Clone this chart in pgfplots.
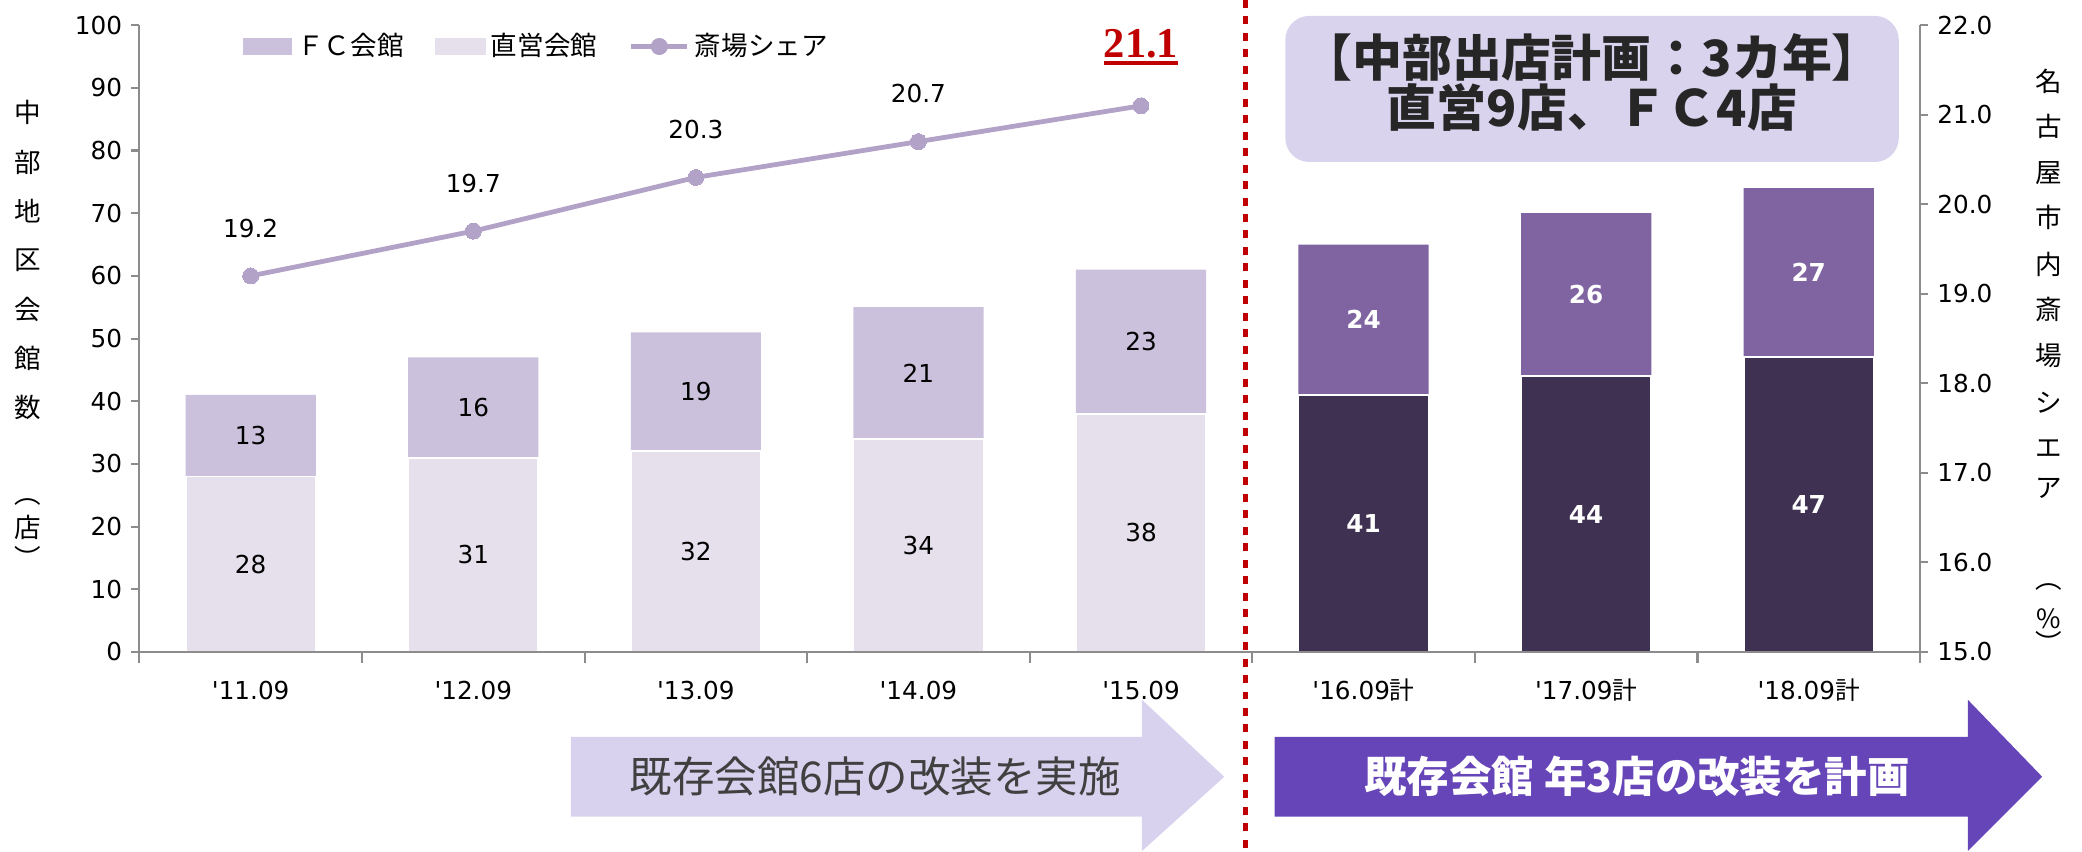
\documentclass[border=0pt]{standalone}
\usepackage{pgfplots}
\pgfplotsset{compat=1.18}
\usepackage{fontspec}
\setmainfont{DejaVu Sans}
\newfontfamily\jp{Noto Sans CJK JP}
\newfontfamily\ser{Liberation Serif}
\definecolor{fcL}{HTML}{CBC1DC}
\definecolor{dkL}{HTML}{E5E0EC}
\definecolor{fcD}{HTML}{8064A2}
\definecolor{dkD}{HTML}{3F3151}
\definecolor{lineC}{HTML}{B3A2C7}
\definecolor{boxC}{HTML}{D9D3EE}
\definecolor{arrL}{HTML}{D8D2EE}
\definecolor{arrR}{HTML}{6645B8}
\definecolor{axC}{HTML}{8C8C8C}
\definecolor{txt}{HTML}{262626}
\definecolor{arrT}{HTML}{404040}
\definecolor{redC}{HTML}{C00000}
\newcommand\numfont{\fontsize{9.3}{10}\selectfont}
\newcommand\jpfont{\jp\fontsize{10}{11}\selectfont}
\newcommand\redul[1]{\setbox0\hbox{#1}\leavevmode\rlap{\copy0}\rule[-2.6pt]{\wd0}{1.3pt}}
\begin{document}
\begin{tikzpicture}[x=0.5pt,y=0.5pt]
\path (0,0) rectangle (1568,641);
% arrows
\fill[arrL] (430,86) -- (860,86) -- (860,114) -- (922,56) -- (860,0) -- (860,26) -- (430,26) -- cycle;
\fill[arrR] (960,86) -- (1482,86) -- (1482,114) -- (1538,56) -- (1482,0) -- (1482,26) -- (960,26) -- cycle;
\node[font=\jp\fontsize{16}{17}\selectfont, text=arrT] at (659,56) {既存会館6店の改装を実施};
\node[font=\jp\bfseries\fontsize{16}{17}\selectfont, text=white] at (1233,56) {既存会館 年3店の改装を計画};
% plan box
\fill[boxC, rounded corners=9pt] (968,519) rectangle (1430,629);
\node[font=\jp\bfseries\fontsize{18.8}{19}\selectfont, text=txt, align=center] at (1199,579) {【中部出店計画：3カ年】\\直営9店、ＦＣ4店};

\begin{axis}[
  at={(52.5pt,75pt)}, anchor=south west, scale only axis,
  width=670.5pt, height=236pt,
  xmin=-0.5, xmax=7.5, ymin=0, ymax=100,
  axis x line*=bottom, axis y line*=left, axis on top,
  axis line style={draw=axC, line width=0.8pt},
  tick style={draw=axC, line width=0.8pt},
  tick align=outside, major tick length=3pt, minor tick length=4pt,
  xtick={0,...,7}, major x tick style={draw=none},
  minor xtick={-0.5,0.5,...,7.5},
  xticklabels={{\textquotesingle 11.09},{\textquotesingle 12.09},{\textquotesingle 13.09},{\textquotesingle 14.09},{\textquotesingle 15.09},{\textquotesingle 16.09{\jp 計}},{\textquotesingle 17.09{\jp 計}},{\textquotesingle 18.09{\jp 計}}},
  xticklabel style={font=\numfont, anchor=center, yshift=-11.5pt},
  ytick={0,10,...,100},
  yticklabel style={font=\numfont, /pgf/number format/assume math mode=true},
  legend style={at={(0.058,0.966)}, anchor=west, draw=none, fill=none, inner sep=0pt,
    font=\jpfont, /tikz/every even column/.append style={column sep=10pt}},
  legend columns=3, legend cell align=left,
  clip=false,
]
\addplot[ybar, bar width=0.585, fill=fcL, draw=none, forget plot] coordinates {(0,41) (1,47) (2,51) (3,55) (4,61)};
\addplot[ybar, bar width=0.585, fill=dkL, draw=white, line width=0.7pt, forget plot] coordinates {(0,28) (1,31) (2,32) (3,34) (4,38)};
\addplot[ybar, bar width=0.585, fill=fcD, draw=none, forget plot] coordinates {(5,65) (6,70) (7,74)};
\addplot[ybar, bar width=0.585, fill=dkD, draw=white, line width=0.7pt, forget plot] coordinates {(5,41) (6,44) (7,47)};
\addplot[only marks, mark=none, forget plot, point meta=explicit symbolic, nodes near coords,
  every node near coord/.append style={anchor=center, font=\numfont, text=black}]
  coordinates {(0,14)[28] (1,15.5)[31] (2,16)[32] (3,17)[34] (4,19)[38]
               (0,34.5)[13] (1,39)[16] (2,41.5)[19] (3,44.5)[21] (4,49.5)[23]};
\addplot[only marks, mark=none, forget plot, point meta=explicit symbolic, nodes near coords,
  every node near coord/.append style={anchor=center, font=\bfseries\numfont, text=white}]
  coordinates {(5,20.5)[41] (6,22)[44] (7,23.5)[47] (5,53)[24] (6,57)[26] (7,60.5)[27]};
\addlegendimage{legend image code/.code={\fill[fcL] (0pt,-3pt) rectangle (18pt,3pt);}}
\addlegendentry{ＦＣ会館}
\addlegendimage{legend image code/.code={\fill[dkL] (0pt,-3pt) rectangle (18.5pt,3pt);}}
\addlegendentry{直営会館}
\addlegendimage{legend image code/.code={\draw[lineC, line width=1.8pt] (0pt,0pt) -- (21pt,0pt); \fill[lineC] (10.5pt,0pt) circle (3pt);}}
\addlegendentry{斎場シェア}
\end{axis}

\begin{axis}[
  at={(52.5pt,75pt)}, anchor=south west, scale only axis,
  width=670.5pt, height=236pt,
  xmin=-0.5, xmax=7.5, ymin=15, ymax=22,
  axis y line*=right, axis x line=none,
  axis line style={draw=axC, line width=0.8pt},
  tick style={draw=axC, line width=0.8pt},
  tick align=outside, major tick length=3pt,
  ytick={15,16,...,22},
  yticklabel style={font=\numfont, /pgf/number format/.cd, fixed, fixed zerofill, precision=1, assume math mode=true},
  clip=false,
]
\addplot[lineC, line width=1.8pt, mark=*, mark size=3pt, mark options={fill=lineC, draw=lineC, line width=0pt}]
  coordinates {(0,19.2) (1,19.7) (2,20.3) (3,20.7) (4,21.1)};
\addplot[only marks, mark=none, point meta=explicit symbolic, nodes near coords,
  every node near coord/.append style={anchor=center, yshift=18pt, font=\numfont, text=black}]
  coordinates {(0,19.2)[19.2] (1,19.7)[19.7] (2,20.3)[20.3] (3,20.7)[20.7]};
\addplot[only marks, mark=none, point meta=explicit symbolic, nodes near coords={\redul{\pgfplotspointmeta}},
  every node near coord/.append style={anchor=center, yshift=22pt, font=\ser\bfseries\fontsize{16}{17}\selectfont, text=redC}]
  coordinates {(4,21.1)[21.1]};
\end{axis}

% axis titles (vertical)
\foreach \c/\yy in {中/556, 部/519, 地/482, 区/445, 会/408, 館/371, 数/334, ︵/263, 店/244, ︶/221}
  \node[font=\jpfont, inner sep=0pt] at (21,\yy) {\c};
\foreach \c/\yy in {名/580, 古/546, 屋/511, 市/477, 内/442, 斎/408, 場/373, シ/338, エ/303, ア/273, ︵/199, \%/175, ︶/157}
  \node[font=\jpfont, inner sep=0pt] at (1543,\yy) {\c};
% divider
\draw[redC, line width=2pt, dash pattern=on 3pt off 3.2pt] (938,641) -- (938,0);
\pgfresetboundingbox
\path[use as bounding box] (0,0) rectangle (1568,641);
\end{tikzpicture}
\end{document}
